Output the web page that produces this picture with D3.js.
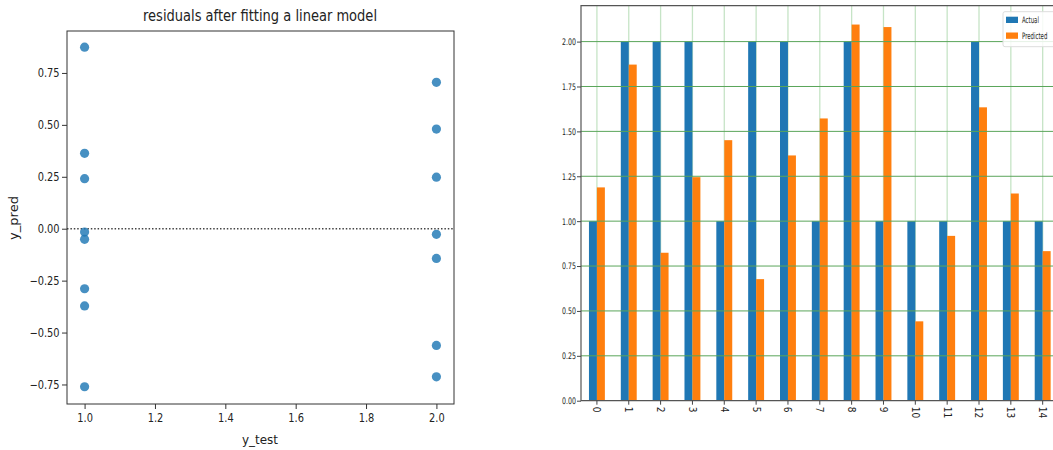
<!DOCTYPE html>
<html><head><meta charset="utf-8">
<script src="https://cdn.jsdelivr.net/npm/d3@7"></script>
<style>
html,body{margin:0;padding:0;background:#fff;overflow:hidden}
svg{display:block}
text{font-family:"DejaVu Sans",sans-serif;fill:#222}
</style></head><body>
<svg id="c" width="1053" height="450"></svg>
<script>
// ---- data ----
const residTitle = "residuals after fitting a linear model";
const residXLabel = "y_test";
const residYLabel = "y_pred";
const residX = [1,1,1,1,1,1,1,1,2,2,2,2,2,2,2];
const residY = [0.874,0.363,0.241,-0.016,-0.051,-0.289,-0.372,-0.761,0.705,0.480,0.248,-0.027,-0.143,-0.562,-0.713];
const residXTicks = [1.0,1.2,1.4,1.6,1.8,2.0];
const residYTicks = [-0.75,-0.5,-0.25,0,0.25,0.5,0.75];

const categories = ["0","1","2","3","4","5","6","7","8","9","10","11","12","13","14"];
const actual =    [1,2,2,2,1,2,2,1,2,1,1,1,2,1,1];
const predicted = [1.188,1.872,0.824,1.245,1.451,0.677,1.366,1.572,2.095,2.081,0.442,0.918,1.634,1.154,0.833];
const barYTicks = [0,0.25,0.5,0.75,1.0,1.25,1.5,1.75,2.0];
const seriesNames = ["Actual","Predicted"];
const seriesColors = ["#1f77b4","#ff7f0e"];

const svg = d3.select("#c");

// ---- left: residual plot ----
const L = {l:67, r:454, t:31, b:404};
const xL = d3.scaleLinear().domain([0.95,2.05]).range([L.l,L.r]);
const yL = d3.scaleLinear().domain([-0.844,0.952]).range([L.b,L.t]);

const gL = svg.append("g");
gL.append("line").attr("x1",L.l).attr("x2",L.r).attr("y1",yL(0)).attr("y2",yL(0))
  .attr("stroke","#444").attr("stroke-width",1.5).attr("stroke-dasharray","1.5,1.9");
gL.selectAll("circle").data(residX.map((x,i)=>[x,residY[i]])).join("circle")
  .attr("cx",d=>xL(d[0])).attr("cy",d=>yL(d[1])).attr("r",4.6)
  .attr("fill","#1f77b4").attr("fill-opacity",0.82);
gL.append("rect").attr("x",L.l).attr("y",L.t).attr("width",L.r-L.l).attr("height",L.b-L.t)
  .attr("fill","none").attr("stroke","#333").attr("stroke-width",1);
const axLx = gL.append("g").attr("transform",`translate(0,${L.b})`)
  .call(d3.axisBottom(xL).tickValues(residXTicks).tickFormat(d3.format(".1f")).tickSize(5).tickPadding(4));
const axLy = gL.append("g").attr("transform",`translate(${L.l},0)`)
  .call(d3.axisLeft(yL).tickValues(residYTicks).tickFormat(d=>d3.format(".2f")(d).replace("-","\u2212")).tickSize(5).tickPadding(4));
[axLx,axLy].forEach(a=>{
  a.select(".domain").remove();
  a.selectAll(".tick line").attr("stroke","#333");
  a.selectAll(".tick text").attr("font-size",12).attr("fill","#222").style("font-family","DejaVu Sans");
});
axLy.selectAll(".tick text").attr("transform","scale(0.82,1)");
axLx.selectAll(".tick text").attr("transform","scale(0.82,1)");

gL.append("text").attr("x",260).attr("y",21).attr("text-anchor","middle")
  .attr("font-size",16).attr("textLength",234).attr("lengthAdjust","spacingAndGlyphs").text(residTitle);
gL.append("text").attr("x",260).attr("y",444).attr("text-anchor","middle")
  .attr("font-size",13).attr("textLength",36).attr("lengthAdjust","spacingAndGlyphs").text(residXLabel);
gL.append("text").attr("transform","translate(18,218) rotate(-90)").attr("text-anchor","middle")
  .attr("font-size",13).attr("textLength",44).attr("lengthAdjust","spacingAndGlyphs").text(residYLabel);

// ---- right: bar chart ----
const R = {l:581, r:1058.6, t:5.7, b:400.7};
const xR = d3.scaleBand().domain(categories).range([R.l,R.r]).padding(0);
const yR = d3.scaleLinear().domain([0,2.2]).range([R.b,R.t]);
const bw = xR.bandwidth()*0.25;
const cx = c => xR(c)+xR.bandwidth()/2;

const gR = svg.append("g");
gR.selectAll("line.vg").data(categories).join("line").attr("class","vg")
  .attr("x1",cx).attr("x2",cx).attr("y1",R.t).attr("y2",R.b)
  .attr("stroke","#c6e4c6").attr("stroke-width",1.3);
gR.selectAll("rect.a").data(categories).join("rect").attr("class","a")
  .attr("x",c=>cx(c)-bw).attr("width",bw)
  .attr("y",(c,i)=>yR(actual[i])).attr("height",(c,i)=>yR(0)-yR(actual[i]))
  .attr("fill",seriesColors[0]);
gR.selectAll("rect.p").data(categories).join("rect").attr("class","p")
  .attr("x",c=>cx(c)).attr("width",bw)
  .attr("y",(c,i)=>yR(predicted[i])).attr("height",(c,i)=>yR(0)-yR(predicted[i]))
  .attr("fill",seriesColors[1]);
gR.selectAll("line.hg").data(barYTicks.filter(d=>d>0)).join("line").attr("class","hg")
  .attr("x1",R.l).attr("x2",R.r).attr("y1",d=>yR(d)).attr("y2",d=>yR(d))
  .attr("stroke","#5aa55a").attr("stroke-width",1);
gR.append("path").attr("d",`M${R.r},${R.t}H${R.l}V${R.b}H${R.r}`)
  .attr("fill","none").attr("stroke","#555").attr("stroke-width",1.2);
const axRy = gR.append("g").attr("transform",`translate(${R.l},0)`)
  .call(d3.axisLeft(yR).tickValues(barYTicks).tickFormat(d3.format(".2f")).tickSize(4).tickPadding(3));
const axRx = gR.append("g").attr("transform",`translate(0,${R.b})`)
  .call(d3.axisBottom(xR).tickSize(4).tickPadding(3));
[axRx,axRy].forEach(a=>{
  a.select(".domain").remove();
  a.selectAll(".tick line").attr("stroke","#444");
  a.selectAll(".tick text").attr("font-size",9).attr("fill","#333").style("font-family","DejaVu Sans");
});
axRy.selectAll(".tick text").attr("transform","scale(0.7,1)");
axRx.selectAll(".tick text").attr("text-anchor","start").attr("dy","0.35em").attr("font-size",10)
  .attr("x",0).attr("y",0).attr("transform","translate(0,6) rotate(90) scale(0.9,1)");

// legend
const lg = gR.append("g");
lg.append("rect").attr("x",1003).attr("y",11.7).attr("width",70).attr("height",35).attr("rx",2)
  .attr("fill","#fff").attr("fill-opacity",0.85).attr("stroke","#ddd");
seriesNames.forEach((n,i)=>{
  lg.append("rect").attr("x",1006).attr("y",16.7+i*15.8).attr("width",12).attr("height",6.3).attr("fill",seriesColors[i]);
  lg.append("text").attr("transform",`translate(1022,${23+i*15.8}) scale(0.6,1)`)
    .attr("font-size",9).attr("fill","#333").text(n);
});
</script>
</body></html>
